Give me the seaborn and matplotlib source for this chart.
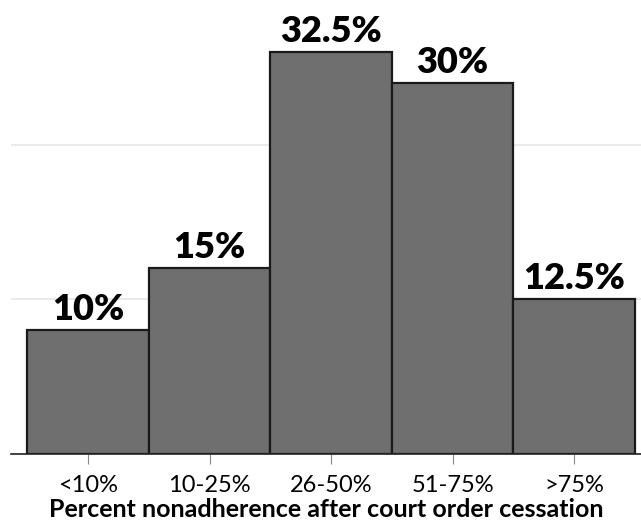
import matplotlib
matplotlib.use("Agg")
import matplotlib.pyplot as plt
import seaborn as sns
import pandas as pd

categories = ["<10%", "10-25%", "26-50%", "51-75%", ">75%"]
percent = [10, 15, 32.5, 30, 12.5]
value_labels = ["10%", "15%", "32.5%", "30%", "12.5%"]
x_title = "Percent nonadherence after court order cessation"

sns.set_theme(style="white")
plt.rcParams["font.family"] = ["Lato", "DejaVu Sans"]

df = pd.DataFrame({"group": categories, "pct": percent})

fig = plt.figure(figsize=(6.41, 5.25), dpi=100)
ax = fig.add_axes([11 / 641, 71.3 / 525, 630 / 641, 453.7 / 525])

sns.barplot(data=df, x="group", y="pct", order=categories, color="#6f6f6f",
            saturation=1, width=1.0, edgecolor="#1a1a1a", linewidth=1.6, ax=ax,
            zorder=3)

ax.set_xlim(-0.635, 4.55)
ax.set_ylim(0, 36.7)
ax.set_yticks([0, 12.5, 25])
ax.set_yticklabels([])
ax.tick_params(axis="y", length=0)
ax.grid(axis="y", color="#e6e6e6", linewidth=1.2, zorder=0)
ax.grid(axis="x", visible=False)

for s in ["top", "right", "left"]:
    ax.spines[s].set_visible(False)
ax.spines["bottom"].set_color("#222222")
ax.spines["bottom"].set_linewidth(1.2)
ax.spines["bottom"].set_zorder(4)

ax.tick_params(axis="x", length=7, width=0.8, color="#888888", pad=8,
               labelsize=17, labelcolor="black", bottom=True)

for i, (v, lab) in enumerate(zip(percent, value_labels)):
    ax.annotate(lab, (i, v), xytext=(0, 3), textcoords="offset points",
                ha="center", va="bottom", fontsize=26, fontweight="heavy",
                color="black")

ax.set_xlabel(x_title, fontsize=18, fontweight="bold", labelpad=2, color="black")
ax.set_ylabel("")

fig.savefig("out.png", dpi=100)
